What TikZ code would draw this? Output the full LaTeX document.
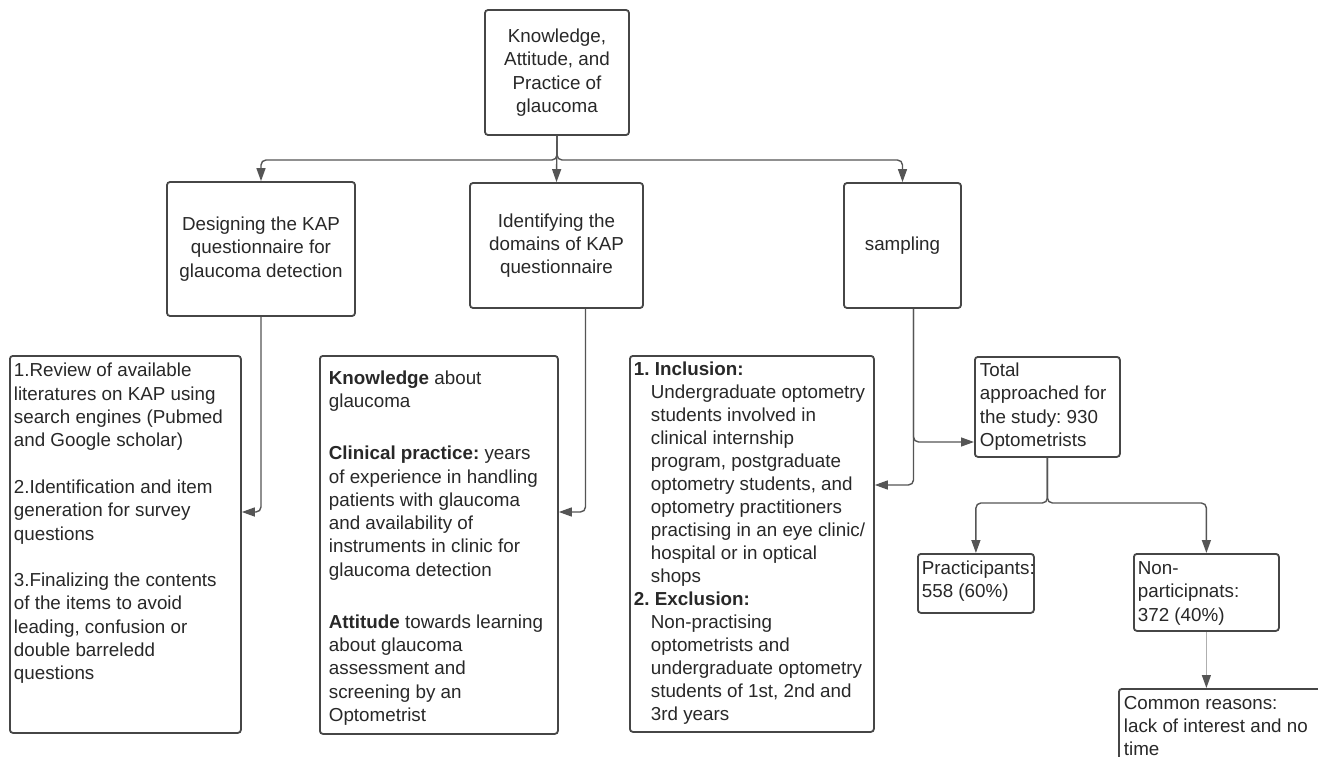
\documentclass[tikz,border=0pt]{standalone}
\usepackage{fontspec}
\setmainfont{Liberation Sans}
\usetikzlibrary{arrows.meta,calc}
\definecolor{bordc}{RGB}{70,70,70}
\definecolor{linec}{RGB}{85,85,85}
\definecolor{txtc}{RGB}{40,40,40}
\definecolor{lightl}{RGB}{175,175,175}
\frenchspacing
\newcommand\tbx[5]{\begin{minipage}[t][#2][t]{#1}\frenchspacing\raggedright\hyphenpenalty=10000\exhyphenpenalty=10000\leftskip=#4\relax\rule{0pt}{#3}#5\end{minipage}}
\begin{document}
\begin{tikzpicture}[x=1pt,y=-1pt,
  box/.style={draw=bordc,line width=1.8pt,rounded corners=3pt,fill=white,inner sep=0pt,text=txtc,font=\fontsize{18.8}{23.3}\selectfont},
  cbox/.style={box,align=center},
  conn/.style={draw=linec,line width=1.4pt,rounded corners=5pt,-{Triangle[length=13pt,width=9pt]}},
  connlight/.style={draw=lightl,line width=1.2pt,-{Triangle[length=13pt,width=9pt,color=linec]}}]
\useasboundingbox (0,0) rectangle (1318,757);
\fill[white] (0,0) rectangle (1318,757);
\clip (0,0) rectangle (1318,757);

\node[cbox,minimum width=144pt,minimum height=125pt] (top) at (557,72.5) {Knowledge,\\Attitude, and\\Practice of\\glaucoma};
\node[cbox,minimum width=188pt,minimum height=134pt] (des) at (261,249) {Designing the KAP\\questionnaire for\\glaucoma detection};
\node[cbox,minimum width=173pt,minimum height=125pt] (ident) at (556.5,245.5) {Identifying the\\domains of KAP\\questionnaire};
\node[cbox,minimum width=117pt,minimum height=125pt] (samp) at (902.5,245.5) {sampling};

\node[box,anchor=north west] (A) at (9,355) {\tbx{231pt}{377pt}{21pt}{4pt}{1.Review of available\\literatures on KAP using\\search engines (Pubmed\\and Google scholar)\\[23.3pt]2.Identification and item\\generation for survey\\questions\\[23.3pt]3.Finalizing the contents\\of the items to avoid\\leading, confusion or\\double barreledd\\questions}};

\node[box,anchor=north west] (B) at (319,355) {\tbx{238pt}{378pt}{28.5pt}{9pt}{\textbf{Knowledge} about\\glaucoma\\[28.7pt]\textbf{Clinical practice:} years\\of experience in handling\\patients with glaucoma\\and availability of\\instruments in clinic for\\glaucoma detection\\[28.7pt]\textbf{Attitude} towards learning\\about glaucoma\\assessment and\\screening by an\\Optometrist}};

\node[box,anchor=north west] (C) at (629,355) {\tbx{244pt}{376pt}{19.5pt}{21pt}{\fontsize{18.8}{23}\selectfont\hspace*{-17pt}\makebox[21pt][l]{\textbf{1.}}\textbf{Inclusion:}\\Undergraduate optometry\\students involved in\\clinical internship\\program, postgraduate\\optometry students, and\\optometry practitioners\\practising in an eye clinic/\\hospital or in optical\\shops\\\hspace*{-17pt}\makebox[21pt][l]{\textbf{2.}}\textbf{Exclusion:}\\Non-practising\\optometrists and\\undergraduate optometry\\students of 1st, 2nd and\\3rd years}};

\node[box,anchor=north west] (tot) at (974,356) {\tbx{145pt}{100pt}{19.5pt}{5pt}{Total\\approached for\\the study: 930\\Optometrists}};
\node[box,anchor=north west] (part) at (917,553) {\tbx{116pt}{59pt}{20.5pt}{4pt}{Practicipants:\\558 (60\%)}};
\node[box,anchor=north west] (non) at (1133,553) {\tbx{145pt}{77pt}{20.5pt}{4pt}{Non-\\participnats:\\372 (40\%)}};
\node[box,anchor=north west] (com) at (1118,688) {\tbx{230pt}{120pt}{20.5pt}{5pt}{\fontsize{18.8}{23}\selectfont Common reasons:\\lack of interest and no\\time}};

\coordinate (hub) at (557,160);
\coordinate (ya) at (0,512);
\coordinate (yc) at (0,485);
\coordinate (yt) at (0,442);
\coordinate (ybr) at (0,503);

\draw[conn] (top.south) -- (ident.north);
\draw[conn] (top.south) -- (hub) -| (des.north);
\draw[conn] (top.south) -- (hub) -| (samp.north);
\draw[conn] (des.south) |- (A.east |- ya);
\draw[conn] ([xshift=29pt]ident.south) |- (B.east |- ya);
\draw[conn] ([xshift=11pt]samp.south) |- (C.east |- yc);
\draw[conn] ([xshift=11pt]samp.south) |- (tot.west |- yt);
\draw[conn] (tot.south) |- (part.north |- ybr) -- (part.north);
\draw[conn] (tot.south) |- (non.north |- ybr) -- (non.north);
\draw[connlight] (non.south) -- (non.south |- com.north);
\end{tikzpicture}
\end{document}
